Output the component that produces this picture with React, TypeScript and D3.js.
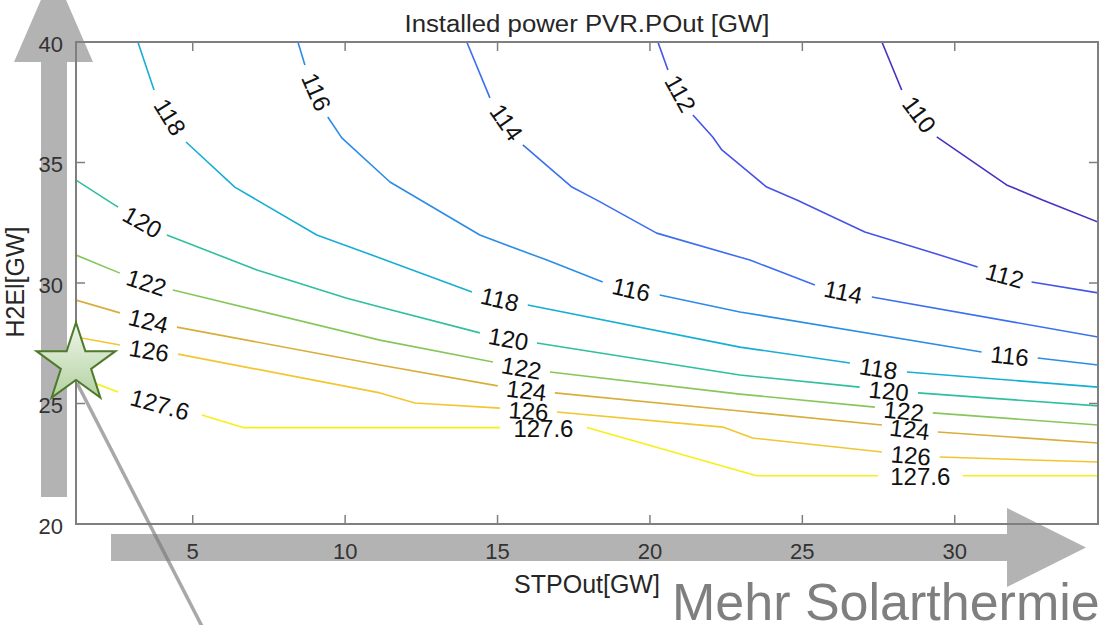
import * as d3 from 'd3'
import React, { useEffect } from 'react'

const WIDTH = 1104
const HEIGHT = 625
const MARGIN = { top: 42, right: 6, bottom: 101, left: 76 }
const FONT = '"Liberation Sans", Arial, Helvetica, sans-serif'

const X_DOMAIN = [1.17, 34.7]
const Y_DOMAIN = [20, 40]
const X_TICKS = [5, 10, 15, 20, 25, 30]
const Y_TICKS = [20, 25, 30, 35, 40]

const TITLE = 'Installed power PVR.POut [GW]'
const X_LABEL = 'STPOut[GW]'
const Y_LABEL = 'H2El[GW]'
const ANNOTATION = 'Mehr Solarthermie'

const LEVELS = [110, 112, 114, 116, 118, 120, 122, 124, 126, 127.6]
const LEVEL_LABELS = ['110', '112', '114', '116', '118', '120', '122', '124', '126', '127.6']
const LEVEL_COLORS = [
  '#4433c0', '#4654e6', '#3a6ff0', '#2b8de6', '#16aed4',
  '#2ebfa0', '#86c75a', '#d8ad38', '#f2c630', '#f5f018',
]

// each contour is split into pieces, a label sits in every gap between two pieces
const c110 = [
  [[27.61, 40], [28.26, 38.01]],
  [[29.41, 36.06], [31.7, 34.07], [32.88, 33.44], [34.7, 32.53]],
]
const c112 = [
  [[20.26, 40], [20.59, 38.84]],
  [[21.41, 36.97], [22.06, 36.06], [22.36, 35.52], [23.28, 34.56], [23.83, 33.98], [24.82, 33.44], [27.05, 32.12], [29.51, 31.16], [30.75, 30.66]],
  [[32.52, 30.04], [34.7, 29.59]],
]
const c114 = [
  [[13.99, 40], [14.75, 37.68]],
  [[15.83, 35.73], [17.44, 33.98], [18.26, 33.44], [20.22, 32.07], [23.28, 30.95], [25.41, 29.92]],
  [[27.28, 29.42], [34.7, 27.76]],
]
const c116 = [
  [[8.45, 40], [8.68, 39.05]],
  [[9.43, 36.89], [9.89, 36.02], [11.47, 34.19], [14.42, 31.99], [16.62, 30.95], [18.45, 30.04]],
  [[20.32, 29.5], [22.95, 28.8], [30.88, 27.14]],
  [[32.72, 26.89], [34.7, 26.6]],
]
const c118 = [
  [[3.2, 40], [3.73, 38.01]],
  [[4.78, 35.85], [6.38, 33.98], [9.07, 31.99], [11.14, 31.04], [14.16, 29.63]],
  [[15.99, 29.09], [22.95, 27.34], [26.56, 26.68]],
  [[28.43, 26.31], [34.7, 25.68]],
]
const c120 = [
  [[1.17, 34.27], [2.19, 33.44], [2.55, 33.15]],
  [[4.15, 31.99], [7.11, 30.54], [10.03, 29.38], [11.14, 29.0], [14.42, 27.93]],
  [[16.29, 27.51], [22.95, 26.18], [26.88, 25.68]],
  [[28.79, 25.44], [34.7, 24.9]],
]
const c122 = [
  [[1.17, 31.16], [2.61, 30.41]],
  [[4.35, 29.71], [11.14, 27.63], [14.85, 26.72]],
  [[16.72, 26.31], [22.95, 25.39], [27.38, 24.85]],
  [[29.28, 24.61], [34.7, 24.11]],
]
const c124 = [
  [[1.17, 29.29], [2.61, 28.76]],
  [[4.48, 28.17], [11.14, 26.6], [15.01, 25.73]],
  [[16.88, 25.44], [22.95, 24.69], [27.61, 24.11]],
  [[29.44, 23.82], [34.7, 23.36]],
]
const c126 = [
  [[1.17, 27.76], [2.61, 27.43]],
  [[4.52, 27.05], [11.14, 25.44], [12.29, 25.02], [15.08, 24.81]],
  [[16.95, 24.65], [22.39, 24.02], [23.37, 23.57], [27.61, 22.99]],
  [[29.51, 22.78], [34.7, 22.57]],
]
const c1276 = [
  [[1.17, 26.14], [2.55, 25.48]],
  [[5.3, 24.52], [6.65, 24], [15.08, 24]],
  [[17.93, 24], [23.5, 22], [27.48, 22]],
  [[30.26, 22], [34.7, 22]],
]

const CONTOURS = [c110, c112, c114, c116, c118, c120, c122, c124, c126, c1276]

const starPoints = (cx, cy, outer, inner) =>
  d3.range(10).map(i => {
    const a = ((-90 + i * 36) * Math.PI) / 180
    const r = i % 2 ? inner : outer
    return [cx + r * Math.cos(a), cy + r * Math.sin(a)]
  })

export default function App() {
  useEffect(() => {
    document.body.style.margin = '0'
    document.body.style.overflow = 'hidden'
  }, [])

  const x = d3.scaleLinear().domain(X_DOMAIN).range([MARGIN.left, WIDTH - MARGIN.right])
  const y = d3.scaleLinear().domain(Y_DOMAIN).range([HEIGHT - MARGIN.bottom, MARGIN.top])
  const line = d3.line().x(d => x(d[0])).y(d => y(d[1]))

  const x0 = x.range()[0]
  const x1 = x.range()[1]
  const y0 = y.range()[0]
  const y1 = y.range()[1]
  const tickLen = 9
  const axisColor = '#7f7f7f'

  // labels go in the middle of each gap, turned along the line
  const labels = []
  CONTOURS.forEach((pieces, li) => {
    for (let i = 0; i < pieces.length - 1; i++) {
      const a = pieces[i][pieces[i].length - 1]
      const b = pieces[i + 1][0]
      const ax = x(a[0]), ay = y(a[1]), bx = x(b[0]), by = y(b[1])
      let angle = (Math.atan2(by - ay, bx - ax) * 180) / Math.PI
      if (angle > 90) angle -= 180
      if (angle < -90) angle += 180
      labels.push({ key: `${li}-${i}`, x: (ax + bx) / 2, y: (ay + by) / 2, angle, text: LEVEL_LABELS[li] })
    }
  })

  const star = starPoints(76, 364, 41.5, 15.9)

  return (
    <svg
      width={WIDTH}
      height={HEIGHT}
      style={{ position: 'absolute', left: 0, top: 0, background: '#fff' }}
      fontFamily={FONT}
    >
      <defs>
        <clipPath id="plot-area">
          <rect x={x0} y={y1} width={x1 - x0} height={y0 - y1} />
        </clipPath>
        <linearGradient id="star-fill" x1="0" y1="0" x2="0" y2="1">
          <stop offset="0%" stopColor="#eef5ea" />
          <stop offset="100%" stopColor="#b4d2a2" />
        </linearGradient>
      </defs>

      {/* grey arrows behind the chart */}
      <g fill="#b3b3b3">
        <polygon points="41,497 41,62 14,62 53.5,-29 93,62 67,62 67,497" />
        <polygon points="111,534 1007,534 1007,508 1086,547.5 1007,587 1007,561 111,561" />
      </g>

      <text x={587} y={32} textAnchor="middle" fontSize={23} fill="#262626" textLength={365} lengthAdjust="spacingAndGlyphs">
        {TITLE}
      </text>

      <g clipPath="url(#plot-area)" fill="none" strokeWidth={1.6} strokeLinejoin="round">
        {CONTOURS.map((pieces, li) =>
          pieces.map((piece, pi) => (
            <path key={`${li}-${pi}`} d={line(piece)} stroke={LEVEL_COLORS[li]} />
          ))
        )}
      </g>

      <g fontSize={24} fill="#111" textAnchor="middle" dominantBaseline="central">
        {labels.map(l => (
          <text key={l.key} transform={`translate(${l.x},${l.y + 1}) rotate(${l.angle})`}>
            {l.text}
          </text>
        ))}
      </g>

      {/* axes box */}
      <rect x={x0} y={y1} width={x1 - x0} height={y0 - y1} fill="none" stroke={axisColor} strokeWidth={2} />
      <g stroke={axisColor} strokeWidth={1.5}>
        {X_TICKS.map(t => (
          <g key={`xt${t}`}>
            <line x1={x(t)} x2={x(t)} y1={y0} y2={y0 - tickLen} />
            <line x1={x(t)} x2={x(t)} y1={y1} y2={y1 + tickLen} />
          </g>
        ))}
        {Y_TICKS.map(t => (
          <g key={`yt${t}`}>
            <line x1={x0} x2={x0 + tickLen} y1={y(t)} y2={y(t)} />
            <line x1={x1} x2={x1 - tickLen} y1={y(t)} y2={y(t)} />
          </g>
        ))}
      </g>
      <g fontSize={22} fill="#333">
        {X_TICKS.map(t => (
          <text key={`xl${t}`} x={x(t)} y={y0 + 27} textAnchor="middle" dominantBaseline="central">
            {t}
          </text>
        ))}
        {Y_TICKS.map(t => (
          <text key={`yl${t}`} x={x0 - 13} y={y(t) + 2} textAnchor="end" dominantBaseline="central">
            {t}
          </text>
        ))}
      </g>

      <text x={587} y={593} textAnchor="middle" fontSize={25} fill="#262626">
        {X_LABEL}
      </text>
      <text transform="translate(24,282) rotate(-90)" textAnchor="middle" fontSize={25} fill="#262626">
        {Y_LABEL}
      </text>

      {/* pointer from the star */}
      <line x1={77} y1={383} x2={209} y2={640} stroke="#7a7a7a" strokeOpacity={0.65} strokeWidth={3.5} />
      <polygon
        points={star.map(p => p.join(',')).join(' ')}
        fill="url(#star-fill)"
        stroke="#4e7a2a"
        strokeWidth={2}
        strokeLinejoin="miter"
      />

      <text x={672} y={620} fontSize={52} fill="#7f7f7f">
        {ANNOTATION}
      </text>
    </svg>
  )
}
